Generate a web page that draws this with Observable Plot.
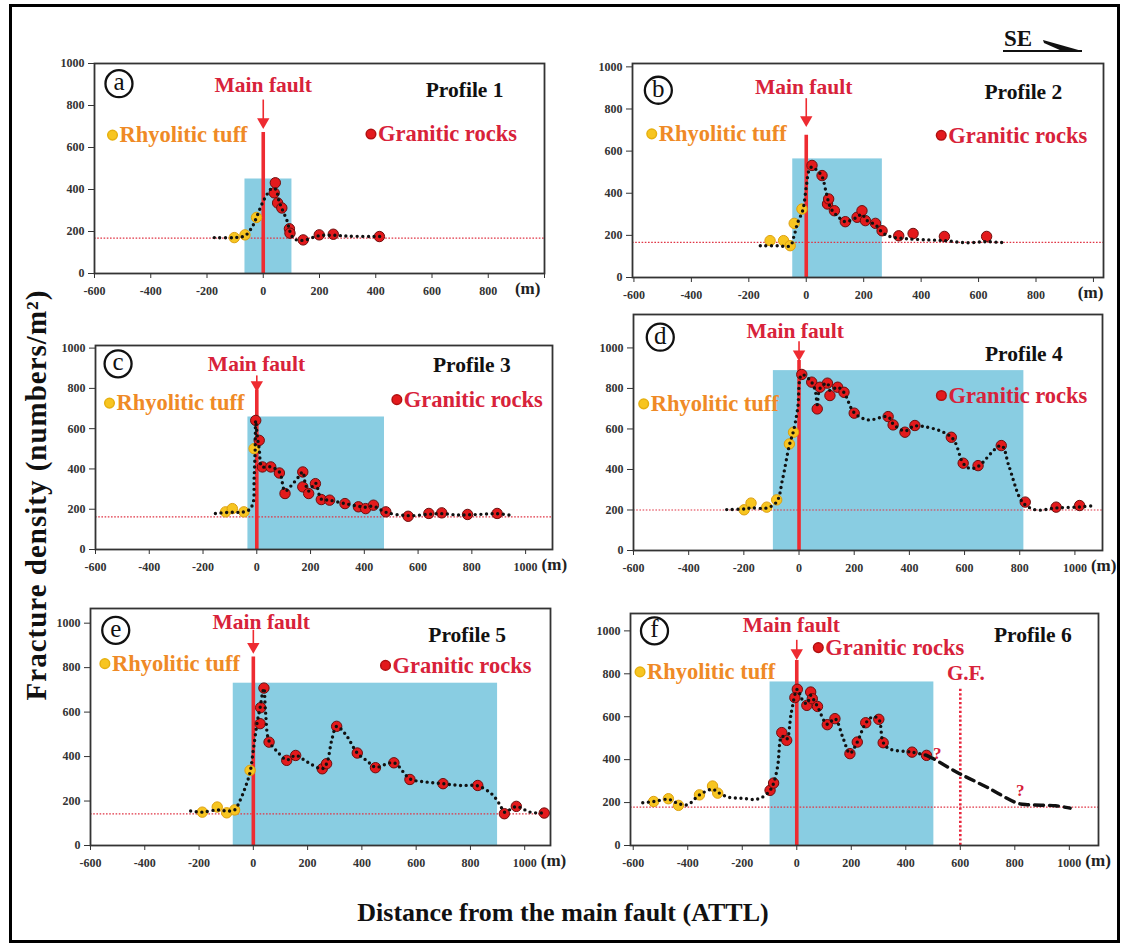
<!DOCTYPE html>
<html><head><meta charset="utf-8">
<script src="https://cdn.jsdelivr.net/npm/d3@7"></script>
<script src="https://cdn.jsdelivr.net/npm/@observablehq/plot@0.6"></script>
<style>
html,body{margin:0;padding:0;background:#fff;}
#root{position:relative;width:1127px;height:949px;overflow:hidden;font-family:"Liberation Serif","DejaVu Serif",serif;background:#fff;}
.panel{position:absolute;}
.panel svg{overflow:visible;max-width:none !important;display:block;}
#border{position:absolute;left:9px;top:4px;width:1111px;height:939px;border:3px solid #000;box-sizing:border-box;}
#ylab{position:absolute;left:36px;top:495px;transform:translate(-50%,-50%) rotate(-90deg);font-weight:bold;font-size:29px;letter-spacing:1px;white-space:nowrap;color:#111;}
#xlab{position:absolute;left:563px;top:913px;transform:translate(-50%,-50%);font-weight:bold;font-size:26px;white-space:nowrap;color:#111;}
#se{position:absolute;left:1000px;top:24px;width:90px;height:34px;}
</style></head><body><div id="root">
<div id="border"></div>
<div id="ylab">Fracture density (numbers/m²)</div>
<div id="xlab">Distance from the main fault (ATTL)</div>
<svg id="se" viewBox="0 0 90 34"><text x="4" y="22" font-family="Liberation Serif" font-weight="bold" font-size="23" fill="#111">SE</text><line x1="3" y1="27" x2="82" y2="27" stroke="#111" stroke-width="2"/><polygon points="43,16 82,27 62,27 44,19" fill="#111"/></svg>
</div>
<script>
// ---- Data (distance m, fracture density numbers/m²) ----
const xTicks = [-600,-400,-200,0,200,400,600,800,1000];
const yTicks = [0,200,400,600,800,1000];

// Profile 1
const p1Tuff = [[-103,171],[-65,184],[-24,267]];
const p1Granite = [[39,384],[43,432],[51,336],[66,312],[93,213],[95,192],[142,160],[199,184],[249,187],[413,176]];
const p1Trend = [[-174,171],[-103,171],[-65,180],[-40,220],[-24,267],[-5,330],[15,380],[30,405],[45,400],[55,350],[66,310],[85,250],[95,200],[110,165],[142,158],[199,180],[249,182],[300,178],[413,176],[431,176]];
const p1Zone = [-65,102,450];
const p1Base = 168;

// Profile 2
const p2Tuff = [[-126,175],[-79,175],[-56,151],[-42,257],[-15,325]];
const p2Granite = [[20,532],[55,484],[74,349],[78,373],[98,317],[136,265],[177,286],[194,317],[206,270],[241,257],[264,222],[322,198],[372,209],[481,195],[628,195]];
const p2Trend = [[-160,151],[-100,151],[-56,151],[-42,200],[-30,260],[-12,320],[0,430],[10,510],[20,525],[40,505],[55,480],[70,400],[85,330],[110,290],[136,265],[175,285],[194,300],[210,272],[241,250],[264,215],[290,195],[340,185],[400,180],[480,175],[560,165],[628,170],[688,165]];
const p2Zone = [-47,265,563];
const p2Base = 167;

// Profile 3
const p3Tuff = [[-116,187],[-91,203],[-48,187],[-10,501]];
const p3Granite = [[-4,641],[9,542],[21,410],[52,410],[84,380],[105,278],[171,385],[171,311],[193,278],[218,327],[240,248],[271,245],[328,228],[378,212],[405,203],[434,220],[480,187],[563,165],[640,179],[688,182],[784,174],[894,179]];
const p3Trend = [[-154,179],[-100,185],[-60,185],[-30,195],[-14,230],[-10,350],[-6,500],[-4,640],[2,560],[9,500],[15,420],[21,410],[52,410],[84,385],[105,290],[130,320],[155,360],[171,385],[180,330],[193,290],[218,330],[240,250],[271,245],[328,228],[378,215],[405,210],[434,215],[480,185],[563,168],[640,175],[688,178],[740,172],[784,172],[840,175],[894,178],[946,170]];
const p3Zone = [-33,475,658];
const p3Base = 162;

// Profile 4
const p4Tuff = [[-199,201],[-174,234],[-117,214],[-81,250],[-35,526],[-20,584]];
const p4Granite = [[10,869],[46,831],[66,699],[76,806],[103,826],[112,765],[140,806],[163,781],[200,678],[323,661],[341,620],[384,584],[420,617],[552,559],[595,431],[649,419],[733,518],[820,239],[932,214],[1017,222]];
const p4Trend = [[-262,202],[-199,205],[-174,210],[-117,210],[-81,240],[-60,350],[-35,520],[-20,590],[-5,700],[10,868],[46,830],[60,780],[66,720],[76,800],[103,826],[112,790],[140,806],[163,780],[200,680],[250,645],[323,660],[341,625],[384,590],[420,615],[552,560],[595,430],[620,405],[649,415],[733,518],[760,420],[800,260],[820,225],[860,200],[932,210],[1017,215],[1073,222]];
const p4Zone = [-93,815,888];
const p4Base = 200;

// Profile 5
const p5Tuff = [[-188,150],[-133,173],[-98,147],[-69,160],[-12,338]];
const p5Granite = [[25,548],[27,620],[39,708],[58,465],[123,383],[156,405],[254,345],[270,368],[307,536],[383,416],[450,350],[518,372],[577,297],[699,278],[827,270],[925,143],[969,176],[1072,146]];
const p5Trend = [[-231,155],[-188,150],[-133,160],[-98,155],[-69,160],[-50,200],[-30,260],[-12,330],[0,430],[15,560],[25,620],[33,680],[39,708],[45,600],[58,470],[90,420],[123,385],[156,405],[200,375],[254,345],[270,368],[290,480],[307,536],[340,500],[383,416],[420,380],[450,352],[518,372],[577,300],[640,285],[699,278],[760,270],[827,268],[880,230],[910,180],[925,150],[969,175],[1020,150],[1072,146]];
const p5Zone = [-74,900,730];
const p5Base = 142;

// Profile 6
const p6Tuff = [[-525,205],[-471,218],[-434,187],[-357,236],[-309,277],[-290,244]];
const p6Granite = [[-98,257],[-85,291],[-55,526],[-37,490],[2,728],[-7,689],[37,653],[51,715],[57,684],[76,648],[112,563],[140,591],[195,428],[222,482],[253,572],[301,588],[317,479],[423,435],[476,420]];
const p6Trend = [[-565,199],[-525,205],[-471,215],[-434,195],[-400,190],[-357,236],[-309,262],[-290,248],[-250,225],[-200,220],[-150,215],[-120,230],[-98,257],[-85,290],[-70,370],[-55,510],[-37,495],[-20,620],[2,728],[20,680],[37,660],[51,700],[57,690],[76,648],[112,565],[140,591],[170,500],[195,430],[222,482],[253,570],[280,600],[301,588],[317,480],[340,450],[423,435],[476,420]];
const p6Inferred = [[476,420],[500,405],[594,337],[700,270],[808,198],[850,190],[950,185],[1003,174]];
const p6Zone = [-98,503,762];
const p6Base = 179;
const p6GF = [600,731];
const p6Query = [[515,428],[820,257]];

// ---- Layout (frame px: left, top, right, bottom) ----
const panels = [
 {L:"a", frame:[94,63,544,273], x:[-600,1000], y:[0,1000], tuff:p1Tuff, granite:p1Granite, trend:p1Trend, zone:p1Zone, base:p1Base,
  fault:[672,826,722], title:"Profile 1", titlePos:[716,875], faultPos:[0,896], tuffPos:[-536,659], granPos:[383,664], letterPos:[-513,904], unit:{x:940, full:false}},
 {L:"b", frame:[632,63,1103,277], x:[-605,1035], y:[0,1016], tuff:p2Tuff, granite:p2Granite, trend:p2Trend, zone:p2Zone, base:p2Base,
  fault:[675,849,748], title:"Profile 2", titlePos:[756,881], faultPos:[-9,905], tuffPos:[-538,682], granPos:[470,675], letterPos:[-515,889], unit:{x:990, full:false}},
 {L:"c", frame:[95,345,552,549], x:[-600,1100], y:[0,1013], tuff:p3Tuff, granite:p3Granite, trend:p3Trend, zone:p3Zone, base:p3Base,
  fault:[792,862,818], title:"Profile 3", titlePos:[800,914], faultPos:[-1,922], tuffPos:[-548,727], granPos:[521,744], letterPos:[-516,922], unit:{x:1000, full:true}},
 {L:"d", frame:[633,314,1102,550], x:[-600,1100], y:[0,1165], tuff:p4Tuff, granite:p4Granite, trend:p4Trend, zone:p4Zone, base:p4Base,
  fault:[938,1030,970], title:"Profile 4", titlePos:[815,971], faultPos:[-14,1082], tuffPos:[-563,724], granPos:[516,765], letterPos:[-503,1053], unit:{x:1000, full:true}},
 {L:"e", frame:[90,608,550,845], x:[-600,1095], y:[0,1066], tuff:p5Tuff, granite:p5Granite, trend:p5Trend, zone:p5Zone, base:p5Base,
  fault:[848,968,895], title:"Profile 5", titlePos:[788,945], faultPos:[29,1005], tuffPos:[-547,818], granPos:[487,810], letterPos:[-507,968], unit:{x:1000, full:true}},
 {L:"f", frame:[630,613,1098,845], x:[-610,1107], y:[0,1081], tuff:p6Tuff, granite:p6Granite, trend:p6Trend, zone:p6Zone, base:p6Base,
  fault:[862,956,898], title:"Profile 6", titlePos:[866,980], faultPos:[-20,1026], tuffPos:[-575,809], granPos:[79,922], letterPos:[-522,1000], unit:{x:1000, full:true},
  inferred:p6Inferred, gf:p6GF, query:p6Query}
];

const RED = "#ee2b31", TXTRED = "#d8223a", ORANGE = "#ef8a26", BLUE = "#89cde2";
const FONT = "'Liberation Serif','DejaVu Serif',serif";
const px = d => d[0], py = d => d[1];
function label(str, pos, opts) {
  return Plot.text([str], {x: [pos[0]], y: [pos[1]], text: d => d, fontFamily: FONT, fontWeight: "bold", ...opts});
}

const root = document.getElementById("root");
for (const c of panels) {
  const [fl, ft, fr, fb] = c.frame;
  const mL = 45, mR = 50, mT = 12, mB = 35;
  const W = fr - fl + mL + mR, H = fb - ft + mT + mB;
  const marks = [
    Plot.rect([c.zone], {x1: d => d[0], x2: d => d[1], y1: 0, y2: d => d[2], fill: BLUE}),
    Plot.ruleY([c.base], {stroke: "#e03545", strokeWidth: 1.2, strokeDasharray: "1.6,1.6"})
  ];
  if (c.gf) marks.push(Plot.ruleX([c.gf], {x: d => d[0], y1: 0, y2: d => d[1], stroke: "#e8263c", strokeWidth: 2.6, strokeDasharray: "2.2,2.2"}));
  marks.push(
    Plot.ruleX([0], {y1: 0, y2: c.fault[0], stroke: RED, strokeWidth: 3.6}),
    Plot.ruleX([0], {y1: c.fault[2], y2: c.fault[1], stroke: RED, strokeWidth: 1.6}),
    Plot.dot([[0, c.fault[2]]], {x: px, y: py, symbol: "triangle", r: 4.6, rotate: 180, fill: RED}),
    Plot.dot(c.tuff, {x: px, y: py, r: 5.2, fill: "#f7c520", stroke: "#dda010", strokeWidth: 1}),
    Plot.dot(c.granite, {x: px, y: py, r: 5.2, fill: "#e31a1c", stroke: "#6e0e0e", strokeWidth: 1}),
    Plot.line(c.trend, {x: px, y: py, curve: "catmull-rom", stroke: "#111", strokeWidth: 3.4, strokeDasharray: "0,5.6", strokeLinecap: "round"})
  );
  if (c.inferred) marks.push(Plot.line(c.inferred, {x: px, y: py, curve: "catmull-rom", stroke: "#111", strokeWidth: 3.4, strokeDasharray: "9,6"}));
  if (c.query) marks.push(Plot.text(c.query, {x: px, y: py, text: () => "?", fill: TXTRED, fontSize: 17, fontWeight: "bold", fontFamily: FONT}));
  if (c.gf) marks.push(label("G.F.", [c.gf[0] + 20, 804], {fill: TXTRED, fontSize: 21}));
  marks.push(
    Plot.frame({stroke: "#333", strokeWidth: 1.8}),
    Plot.axisX({ticks: xTicks, tickFormat: d => (d === 1000 && !c.unit.full) ? "" : String(d), tickSize: 5, tickPadding: 8, fontSize: 12, fontWeight: "bold", fontFamily: FONT}),
    Plot.axisY({ticks: yTicks, tickFormat: d => String(d), tickSize: 6, tickPadding: 4, fontSize: 12, fontWeight: "bold", fontFamily: FONT}),
    Plot.text(["(m)"], {x: [c.unit.x], frameAnchor: "bottom", dy: 20, dx: c.unit.full ? 16 : 0, textAnchor: c.unit.full ? "start" : "middle", text: d => d, fontSize: 17, fontWeight: "bold", fontFamily: FONT, fill: "#222"}),
    label("Main fault", c.faultPos, {fill: TXTRED, fontSize: 21.5}),
    label(c.title, c.titlePos, {fill: "#111", fontSize: 21.5}),
    Plot.dot([c.tuffPos], {x: px, y: py, r: 4.8, fill: "#f7c520", stroke: "#e6b010"}),
    label("Rhyolitic tuff", c.tuffPos, {fill: ORANGE, fontSize: 22.5, textAnchor: "start", dx: 7}),
    Plot.dot([c.granPos], {x: px, y: py, r: 4.8, fill: "#e31a1c", stroke: "#b01010"}),
    label("Granitic rocks", c.granPos, {fill: TXTRED, fontSize: 22.5, textAnchor: "start", dx: 7}),
    Plot.dot([c.letterPos], {x: px, y: py, r: 13.5, fill: "white", stroke: "#111", strokeWidth: 2.3}),
    label(c.L, c.letterPos, {fill: "#111", fontSize: 25, fontWeight: "normal", dy: -1.5})
  );
  const chart = Plot.plot({
    width: W, height: H,
    marginLeft: mL, marginRight: mR, marginTop: mT, marginBottom: mB,
    x: {domain: c.x, inset: 0}, y: {domain: c.y, inset: 0},
    style: {background: "transparent", fontFamily: FONT, fontSize: "12px", color: "#333", overflow: "visible", maxWidth: "none"},
    marks
  });
  chart.setAttribute("width", W);
  chart.setAttribute("height", H);
  chart.style.width = W + "px";
  chart.style.height = H + "px";
  const div = document.createElement("div");
  div.className = "panel";
  div.style.left = (fl - mL) + "px";
  div.style.top = (ft - mT) + "px";
  div.style.width = W + "px";
  div.style.height = H + "px";
  div.appendChild(chart);
  root.appendChild(div);
}
</script>
</body></html>
